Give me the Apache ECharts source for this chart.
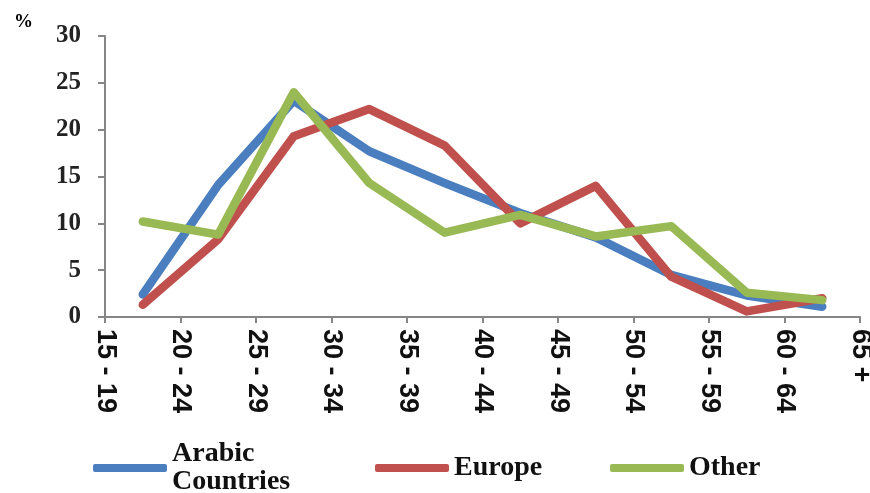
<!DOCTYPE html>
<html>
<head>
<meta charset="utf-8">
<script src="https://cdn.jsdelivr.net/npm/echarts@6/dist/echarts.min.js"></script>
<style>
html,body{margin:0;padding:0;background:#fff;}
#chart{width:870px;height:493px;}
</style>
</head>
<body>
<div id="chart"></div>
<script>
// Tick labels on the x axis (age groups)
var ageLabels = ['15 - 19','20 - 24','25 - 29','30 - 34','35 - 39','40 - 44','45 - 49','50 - 54','55 - 59','60 - 64','65 +'];
// Data point slots (10 points, plotted between the tick labels as in the original)
var pointSlots = ['p1','p2','p3','p4','p5','p6','p7','p8','p9','p10'];
var seriesNames = ['Arabic Countries','Europe','Other'];
var arabic = [2.4, 14.1, 23.1, 17.7, 14.3, 11.1, 8.5, 4.5, 2.3, 1.1];
var europe = [1.3, 8.3, 19.3, 22.2, 18.3, 10.0, 14.0, 4.3, 0.6, 2.0];
var other  = [10.2, 8.8, 24.0, 14.3, 9.0, 10.9, 8.6, 9.7, 2.6, 1.8];
var yTicks = [0, 5, 10, 15, 20, 25, 30];

var colors = ['#4a7ebf', '#c0504d', '#98b954'];
var chart = echarts.init(document.getElementById('chart'));

var legendText = {
  fontFamily: 'Liberation Serif',
  fontWeight: 'bold',
  fontSize: 28,
  lineHeight: 28,
  color: '#111'
};
function mkLegend(name, left, top) {
  return {
    data: [name],
    left: left,
    top: top,
    orient: 'horizontal',
    icon: 'roundRect',
    itemWidth: 74,
    itemHeight: 8,
    itemGap: 0,
    padding: 0,
    textStyle: legendText,
    formatter: function (n) { return n === 'Arabic Countries' ? 'Arabic\nCountries' : n; }
  };
}

var seriesData = [arabic, europe, other];
var series = seriesNames.map(function (n, i) {
  return {
    name: n,
    type: 'line',
    xAxisIndex: 1,
    data: seriesData[i],
    symbol: 'none',
    smooth: false,
    color: colors[i],
    lineStyle: { width: 8.5, color: colors[i], cap: 'round', join: 'round' }
  };
});

chart.setOption({
  animation: false,
  backgroundColor: '#fff',
  grid: { left: 105, right: 10, top: 36, bottom: 176, containLabel: false, outerBoundsMode: 'none' },
  legend: [
    mkLegend('Arabic Countries', 93, 440),
    mkLegend('Europe', 375, 454),
    mkLegend('Other', 610, 454)
  ],
  graphic: [{
    type: 'text',
    left: 14,
    top: 13,
    style: { text: '%', fontFamily: 'Liberation Serif', fontWeight: 'bold', fontSize: 19, fill: '#000' }
  }],
  xAxis: [{
    type: 'category',
    data: ageLabels,
    boundaryGap: false,
    axisLine: { lineStyle: { color: '#868686', width: 2 } },
    axisTick: { show: true, length: 6, interval: 0, lineStyle: { color: '#868686', width: 2 } },
    axisLabel: {
      interval: 0,
      rotate: -90,
      margin: 12,
      fontFamily: 'Liberation Sans',
      fontWeight: 'bold',
      fontSize: 27,
      color: '#111'
    },
    splitLine: { show: false }
  }, {
    type: 'category',
    data: pointSlots,
    boundaryGap: true,
    show: false
  }],
  yAxis: {
    type: 'value',
    min: yTicks[0],
    max: yTicks[yTicks.length - 1],
    interval: 5,
    axisLine: { show: true, lineStyle: { color: '#868686', width: 2 } },
    axisTick: { show: true, length: 7, lineStyle: { color: '#868686', width: 2 } },
    axisLabel: {
      margin: 24,
      fontFamily: 'Liberation Serif',
      fontWeight: 'bold',
      fontSize: 25,
      color: '#222'
    },
    splitLine: { show: false }
  },
  series: series
});
</script>
</body>
</html>
